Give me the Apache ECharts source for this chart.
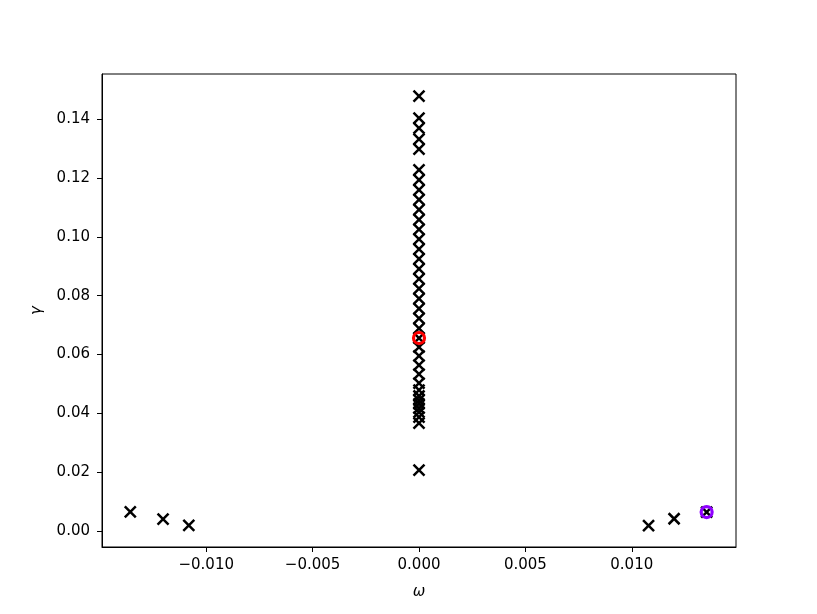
<!DOCTYPE html>
<html>
<head>
<meta charset="utf-8">
<script src="https://cdn.jsdelivr.net/npm/echarts@6/dist/echarts.min.js"></script>
<style>
  html, body { margin: 0; padding: 0; background: #fff; }
  #chart { width: 817px; height: 614px; }
</style>
</head>
<body>
<div id="chart"></div>
<script>
// side eigenvalues (omega != 0)
var omegaSide = [-0.01357, -0.01203, -0.01082, 0.01079, 0.01199, 0.01352];
var gammaSide = [0.00656, 0.00408, 0.00193, 0.00190, 0.00420, 0.00646];

// purely damped eigenvalues (omega = 0)
var omegaCenter = [0, 0, 0, 0, 0, 0, 0, 0, 0, 0, 0, 0, 0, 0, 0, 0, 0, 0, 0, 0,
                   0, 0, 0, 0, 0, 0, 0, 0, 0, 0, 0, 0, 0, 0, 0, 0, 0];
var gammaCenter = [0.1478, 0.1403, 0.1369, 0.1332, 0.1298,
                   0.1227, 0.1193, 0.1159, 0.1126, 0.1092, 0.1058, 0.1025, 0.0992, 0.0958,
                   0.0925, 0.0891, 0.0857, 0.0824, 0.0790, 0.0756, 0.0723, 0.0689, 0.0656,
                   0.0625, 0.0595, 0.0564, 0.0533, 0.0503, 0.0479, 0.0459, 0.0445, 0.0432,
                   0.0418, 0.0404, 0.0387, 0.0367, 0.0207];

// highlighted modes
var redMode = [0, 0.0656];
var purpleMode = [0.01352, 0.00646];

var xTicks = [-0.010, -0.005, 0.000, 0.005, 0.010];
var yTicks = [0.00, 0.02, 0.04, 0.06, 0.08, 0.10, 0.12, 0.14];

function pairs(xs, ys) {
  return xs.map(function (x, i) { return [x, ys[i]]; });
}
function fmt(v, d) {
  var s = Math.abs(v).toFixed(d);
  return (v < -1e-12 ? '\u2212' : '') + s;
}

var crossSymbol = 'path://M0,0L10,10M10,0L0,10';
var font = 'DejaVu Sans';

var chart = echarts.init(document.getElementById('chart'));
chart.setOption({
  animation: false,
  backgroundColor: '#fff',
  grid: {
    left: 102, right: 81, top: 74, bottom: 67,
    show: true, borderColor: '#000', borderWidth: 1
  },
  xAxis: {
    type: 'value',
    min: -0.0149, max: 0.0149,
    name: '\u03c9',
    nameLocation: 'middle',
    nameGap: 38,
    nameTextStyle: { fontFamily: font, fontStyle: 'italic', fontSize: 15, color: '#000' },
    splitLine: { show: false },
    axisLine: { show: true, onZero: false, lineStyle: { color: '#000', width: 1 } },
    axisTick: { show: true, length: 5, lineStyle: { color: '#000' }, customValues: xTicks },
    axisLabel: {
      margin: 11, fontFamily: font, fontSize: 15, color: '#000',
      customValues: xTicks,
      formatter: function (v) { return fmt(v, 3); }
    }
  },
  yAxis: {
    type: 'value',
    min: -0.0054, max: 0.1553,
    name: '\u03b3',
    nameLocation: 'middle',
    nameGap: 57,
    nameRotate: 90,
    nameTextStyle: { fontFamily: font, fontStyle: 'italic', fontSize: 15, color: '#000' },
    splitLine: { show: false },
    axisLine: { show: true, onZero: false, lineStyle: { color: '#000', width: 1 } },
    axisTick: { show: true, length: 5, lineStyle: { color: '#000' }, customValues: yTicks },
    axisLabel: {
      margin: 12, fontFamily: font, fontSize: 15, color: '#000',
      customValues: yTicks,
      formatter: function (v) { return fmt(v, 2); }
    }
  },
  series: [
    {
      type: 'scatter',
      data: pairs(omegaCenter, gammaCenter).concat(pairs(omegaSide, gammaSide)),
      symbol: crossSymbol,
      symbolSize: 11,
      itemStyle: { color: 'none', borderColor: '#000', borderWidth: 2.5, opacity: 1 },
      z: 2
    },
    {
      type: 'scatter',
      data: [redMode],
      symbol: 'circle',
      symbolSize: 11,
      itemStyle: { color: 'rgba(0,0,0,0)', borderColor: '#ff0000', borderWidth: 3.2, opacity: 1 },
      z: 3
    },
    {
      type: 'scatter',
      data: [purpleMode],
      symbol: 'circle',
      symbolSize: 11,
      itemStyle: { color: 'rgba(0,0,0,0)', borderColor: '#8f00ff', borderWidth: 3.2, opacity: 1 },
      z: 3
    }
  ]
});
</script>
</body>
</html>
